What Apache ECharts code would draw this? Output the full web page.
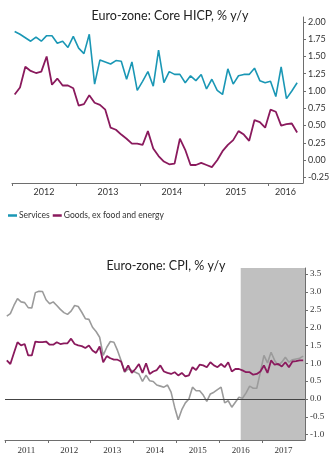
<!DOCTYPE html>
<html><head><meta charset="utf-8">
<script src="https://cdn.jsdelivr.net/npm/echarts@6/dist/echarts.min.js"></script>
<style>html,body{margin:0;padding:0;background:#fff}#c{width:334px;height:464px}</style>
</head><body><div id="c"></div>
<script>
// ---- Top chart: Euro-zone Core HICP, % y/y (monthly from Jan 2012) ----
const topFirstYear = 2012;
const topYears = ['2012', '2013', '2014', '2015', '2016'];
const topYTicks = [-0.25, 0, 0.25, 0.5, 0.75, 1, 1.25, 1.5, 1.75, 2];
const servicesValues = [1.86,1.82,1.77,1.72,1.78,1.72,1.80,1.80,1.69,1.72,
  1.63,1.79,1.62,1.54,1.82,1.10,1.45,1.42,1.39,1.44,
  1.43,1.17,1.42,1.01,1.14,1.28,1.07,1.59,1.12,1.28,
  1.24,1.24,1.12,1.22,1.15,1.24,1.03,1.17,1.01,0.95,
  1.32,1.10,1.22,1.24,1.24,1.33,1.15,1.12,1.14,0.92,
  1.35,0.89,1.00,1.12];
const goodsValues = [0.95,1.05,1.35,1.29,1.26,1.28,1.50,1.09,1.18,1.08,
  1.08,1.04,0.79,0.81,0.94,0.83,0.80,0.73,0.47,0.44,
  0.37,0.31,0.24,0.24,0.22,0.42,0.17,0.06,-0.02,-0.06,
  -0.05,0.31,0.15,-0.07,-0.07,-0.04,-0.07,-0.10,0.00,0.13,
  0.22,0.29,0.42,0.37,0.28,0.58,0.55,0.47,0.73,0.70,
  0.50,0.52,0.53,0.40];

// ---- Bottom chart: Euro-zone CPI, % y/y (monthly from Jan 2011) ----
const botFirstYear = 2011;
const botYears = ['2011', '2012', '2013', '2014', '2015', '2016', '2017'];
const botYTicks = [-1, -0.5, 0, 0.5, 1, 1.5, 2, 2.5, 3, 3.5];
const headlineValues = [2.32,2.39,2.62,2.81,2.72,2.70,2.56,2.55,2.98,3.02,3.01,2.78,
  2.67,2.72,2.62,2.51,2.42,2.37,2.46,2.62,2.59,2.43,2.25,2.23,
  2.01,1.89,1.73,1.22,1.45,1.61,1.59,1.36,1.08,0.75,0.84,0.80,
  0.75,0.70,0.49,0.67,0.51,0.49,0.39,0.36,0.33,0.39,0.19,-0.23,
  -0.58,-0.30,-0.11,0.00,0.33,0.23,0.23,0.11,-0.07,0.14,0.19,0.26,
  0.33,-0.11,-0.05,-0.23,-0.09,0.05,0.02,0.17,0.36,0.30,0.30,0.75,
  1.22,1.01,1.31,1.08,0.94,1.03,1.17,1.03,1.10,1.12,1.14,1.20];
const coreValues = [1.08,0.98,1.29,1.59,1.50,1.54,1.22,1.22,1.61,1.59,1.59,1.61,
  1.52,1.52,1.59,1.54,1.56,1.56,1.69,1.54,1.50,1.48,1.43,1.50,
  1.36,1.29,1.47,1.03,1.20,1.14,1.10,1.10,1.05,0.77,0.94,0.73,
  0.84,0.98,0.73,1.00,0.70,0.77,0.81,0.94,0.77,0.73,0.70,0.75,
  0.66,0.73,0.63,0.66,0.89,0.81,0.96,0.94,0.89,1.03,0.94,0.89,
  0.98,0.89,1.03,0.77,0.84,0.84,0.80,0.75,0.75,0.68,0.70,0.77,
  0.94,0.73,1.08,0.96,0.98,0.91,1.03,0.89,1.05,1.06,1.08,1.08];
const forecastStart = [2016, 7]; // shaded from July 2016

// month index (months since Jan of first year), point placed mid-month
function monthly(values) { return values.map((v, i) => [i + 0.5, v]); }

const topMonths = 54.6;
const botMonths = botYears.length * 12;
const topTickVals = topYears.map((y, i) => i * 12);
const topLabelVals = topYears.map((y, i) => Math.min(i * 12 + 6, (i * 12 + topMonths) / 2));
const botTickVals = botYears.map((y, i) => i * 12);
const botLabelVals = botYears.map((y, i) => i * 12 + 6);
const shadeFrom = (forecastStart[0] - botFirstYear) * 12 + forecastStart[1] - 1;

const TEAL = '#1a97b5', PURPLE = '#8a1a5d', GREY = '#9b9b9b', AXIS = '#6e6e6e', TXT = '#333';
const SANS = 'Lato, "Noto Sans", sans-serif';
const SERIF = '"Liberation Serif", serif';

const chart = echarts.init(document.getElementById('c'), null, {renderer: 'canvas'});
chart.setOption({
  animation: false,
  backgroundColor: '#fff',
  title: [
    {text: 'Euro-zone: Core HICP, % y/y', left: 165, textAlign: 'center', top: 4,
     textStyle: {fontFamily: SANS, fontSize: 12.5, fontWeight: 'normal', color: '#222'}},
    {text: 'Euro-zone: CPI, % y/y', left: 161, textAlign: 'center', top: 254,
     textStyle: {fontFamily: SANS, fontSize: 12.5, fontWeight: 'normal', color: '#222'}}
  ],
  legend: {
    data: ['Services', 'Goods, ex food and energy'],
    left: 3, top: 206, icon: 'rect', itemWidth: 9, itemHeight: 2.5, itemGap: 3,
    textStyle: {fontFamily: SANS, fontSize: 8.5, color: TXT, padding: [0, 0, 0, -3]}
  },
  grid: [
    {left: 12, right: 31, top: 17, bottom: 281},
    {left: 5, right: 29, top: 268, bottom: 24}
  ],
  xAxis: [
    {gridIndex: 0, type: 'value', min: 0, max: topMonths,
     axisLine: {show: true, onZero: false, lineStyle: {color: AXIS, width: 1}},
     axisTick: {show: true, customValues: topTickVals, length: 3, lineStyle: {color: AXIS}},
     axisLabel: {customValues: topLabelVals, margin: 5, fontFamily: SANS, fontSize: 9, color: TXT,
       formatter: v => topYears[Math.floor(v / 12)]},
     splitLine: {show: false}},
    {gridIndex: 1, type: 'value', min: 0, max: botMonths,
     axisLine: {show: true, onZero: false, lineStyle: {color: AXIS, width: 1}},
     axisTick: {show: true, customValues: botTickVals, length: 3, lineStyle: {color: AXIS}},
     axisLabel: {customValues: botLabelVals, margin: 6, fontFamily: SERIF, fontSize: 9, color: TXT,
       formatter: v => botYears[Math.floor(v / 12)]},
     splitLine: {show: false}}
  ],
  yAxis: [
    {gridIndex: 0, type: 'value', position: 'right', min: -0.33, max: 2.07,
     axisLine: {show: true, onZero: false, lineStyle: {color: AXIS, width: 1}},
     axisTick: {show: true, customValues: topYTicks, length: 3, lineStyle: {color: AXIS}},
     axisLabel: {customValues: topYTicks, margin: 5, fontFamily: SANS, fontSize: 9, color: TXT,
       formatter: v => v.toFixed(2)},
     splitLine: {show: false}},
    {gridIndex: 1, type: 'value', position: 'right', min: -1.15, max: 3.67,
     axisLine: {show: true, onZero: false, lineStyle: {color: AXIS, width: 1}},
     axisTick: {show: true, customValues: botYTicks, length: 3, lineStyle: {color: AXIS}},
     axisLabel: {customValues: botYTicks, margin: 5, fontFamily: SERIF, fontSize: 9, color: TXT,
       formatter: v => v.toFixed(1)},
     splitLine: {show: false}}
  ],
  series: [
    {name: 'Services', type: 'line', xAxisIndex: 0, yAxisIndex: 0, data: monthly(servicesValues),
     showSymbol: false, color: TEAL, lineStyle: {width: 1.6, color: TEAL}},
    {name: 'Goods, ex food and energy', type: 'line', xAxisIndex: 0, yAxisIndex: 0, data: monthly(goodsValues),
     showSymbol: false, color: PURPLE, lineStyle: {width: 1.8, color: PURPLE}},
    {name: 'Headline CPI', type: 'line', xAxisIndex: 1, yAxisIndex: 1, data: monthly(headlineValues),
     showSymbol: false, color: GREY, lineStyle: {width: 1.6, color: GREY}, z: 3,
     markArea: {silent: true, itemStyle: {color: '#c0c0c0'}, data: [[{xAxis: shadeFrom}, {xAxis: botMonths}]]},
     markLine: {silent: true, symbol: 'none', label: {show: false},
       lineStyle: {color: '#444', width: 1, type: 'solid'}, data: [{yAxis: 0}]}},
    {name: 'Core CPI', type: 'line', xAxisIndex: 1, yAxisIndex: 1, data: monthly(coreValues),
     showSymbol: false, color: PURPLE, lineStyle: {width: 1.8, color: PURPLE}, z: 4}
  ]
});
</script></body></html>
